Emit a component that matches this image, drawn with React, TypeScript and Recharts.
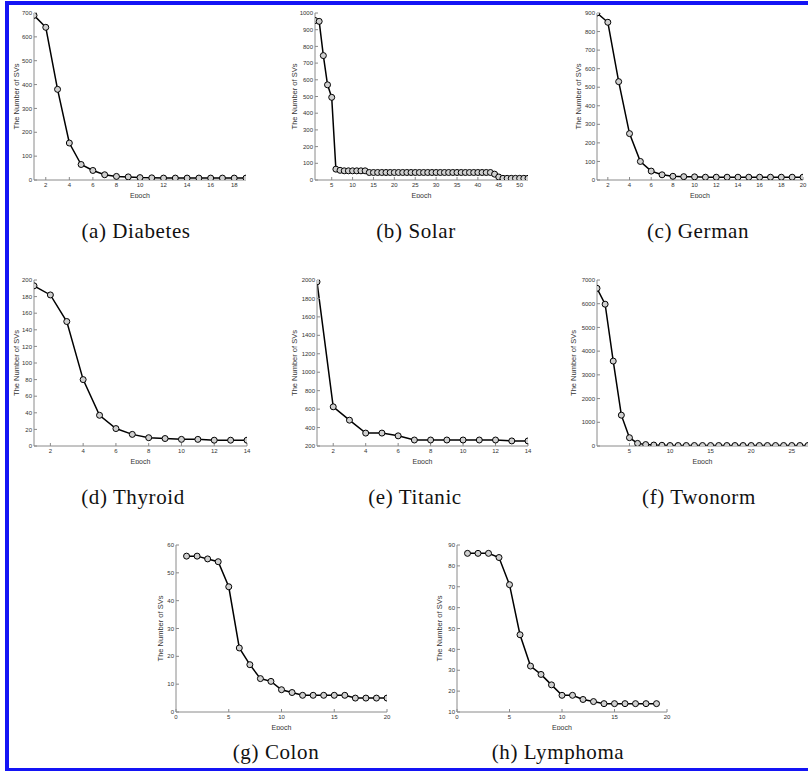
import React from 'react';
import { LineChart, Line, XAxis, YAxis } from 'recharts';

// number of support vectors per epoch
const diabetesSVs = [690, 640, 380, 155, 65, 40, 22, 15, 13, 10, 9, 8, 8, 8, 8, 8, 8, 8, 8];
const solarSVs = [
  955, 950, 745, 570, 495, 65, 58, 55, 55, 55, 55, 55, 55,
  45, 45, 45, 45, 45, 45, 45, 45, 45, 45, 45, 45, 45, 45, 45,
  45, 45, 45, 45, 45, 45, 45, 45, 45, 45, 45, 45, 45, 45, 45,
  35, 18, 10, 10, 10, 10, 10, 10, 10,
];
const germanSVs = [900, 850, 530, 250, 100, 48, 28, 20, 18, 17, 15, 15, 15, 15, 15, 15, 15, 15, 15, 15];
const thyroidSVs = [193, 182, 150, 80, 37, 21, 14, 10, 9, 8, 8, 7, 7, 7];
const titanicSVs = [1980, 625, 480, 340, 340, 310, 265, 265, 265, 265, 265, 265, 255, 255];
const twonormSVs = [
  6650, 5980, 3580, 1300, 350, 110, 60, 40, 30,
  20, 20, 20, 20, 20, 20, 20, 20, 20, 20, 20, 20, 20, 20, 20, 20, 20, 20,
];
const colonSVs = [56, 56, 55, 54, 45, 23, 17, 12, 11, 8, 7, 6, 6, 6, 6, 6, 5, 5, 5, 5];
const lymphomaSVs = [86, 86, 86, 84, 71, 47, 32, 28, 23, 18, 18, 16, 15, 14, 14, 14, 14, 14, 14];

// tick labels
const diabetesXTicks = [2, 4, 6, 8, 10, 12, 14, 16, 18];
const diabetesYTicks = [0, 100, 200, 300, 400, 500, 600, 700];
const solarXTicks = [5, 10, 15, 20, 25, 30, 35, 40, 45, 50];
const solarYTicks = [0, 100, 200, 300, 400, 500, 600, 700, 800, 900, 1000];
const germanXTicks = [2, 4, 6, 8, 10, 12, 14, 16, 18, 20];
const germanYTicks = [0, 100, 200, 300, 400, 500, 600, 700, 800, 900];
const thyroidXTicks = [2, 4, 6, 8, 10, 12, 14];
const thyroidYTicks = [0, 20, 40, 60, 80, 100, 120, 140, 160, 180, 200];
const titanicXTicks = [2, 4, 6, 8, 10, 12, 14];
const titanicYTicks = [200, 400, 600, 800, 1000, 1200, 1400, 1600, 1800, 2000];
const twonormXTicks = [5, 10, 15, 20, 25];
const twonormYTicks = [0, 1000, 2000, 3000, 4000, 5000, 6000, 7000];
const colonXTicks = [0, 5, 10, 15, 20];
const colonYTicks = [0, 10, 20, 30, 40, 50, 60];
const lymphomaXTicks = [0, 5, 10, 15, 20];
const lymphomaYTicks = [10, 20, 30, 40, 50, 60, 70, 80, 90];

const captions = ['(a) Diabetes', '(b) Solar', '(c) German', '(d) Thyroid', '(e) Titanic', '(f) Twonorm', '(g) Colon', '(h) Lymphoma'];

const FRAME = '#8a8a8a';
const INK = '#333';
const BLUE = '#1414f5';
const SANS = '"Liberation Sans", Arial, sans-serif';

interface PanelProps {
  values: number[];
  xDomain: [number, number];
  yDomain: [number, number];
  xTicks: number[];
  yTicks: number[];
  x: number;
  y: number;
  w: number;
  h: number;
  gap: number;
}

const Panel: React.FC<PanelProps> = ({ values, xDomain, yDomain, xTicks, yTicks, x, y, w, h, gap }) => {
  const data = values.map((v, i) => ({ epoch: i + 1, svs: v }));
  const padL = gap * 2;
  const padT = 4;
  const padR = 4;
  const padB = 18;
  const tickFont = { fontSize: 6, fill: INK, fontFamily: SANS };

  return (
    <div style={{ position: 'absolute', left: x - padL, top: y - padT }}>
      <LineChart
        width={w + padL + padR}
        height={h + padT + padB}
        data={data}
        margin={{ top: padT, right: padR, bottom: 0, left: 0 }}
      >
        <XAxis
          xAxisId="b"
          dataKey="epoch"
          type="number"
          domain={xDomain}
          ticks={xTicks}
          interval={0}
          height={padB}
          tickSize={-3}
          tickMargin={6}
          stroke={FRAME}
          tick={tickFont}
          allowDataOverflow
          label={{ value: 'Epoch', position: 'insideBottom', offset: 0, fontSize: 7, fill: INK, fontFamily: SANS }}
        />
        <XAxis
          xAxisId="t"
          orientation="top"
          dataKey="epoch"
          type="number"
          domain={xDomain}
          ticks={xTicks}
          interval={0}
          height={0}
          tickSize={-3}
          tickFormatter={() => ''}
          stroke={FRAME}
          allowDataOverflow
        />
        <YAxis
          yAxisId="l"
          type="number"
          domain={yDomain}
          ticks={yTicks}
          interval={0}
          width={padL}
          tickSize={-3}
          tickMargin={5}
          stroke={FRAME}
          tick={tickFont}
          allowDataOverflow
          label={{ value: 'The Number of SVs', angle: -90, position: 'center', fontSize: 7.5, fill: INK, fontFamily: SANS }}
        />
        <YAxis
          yAxisId="r"
          orientation="right"
          type="number"
          domain={yDomain}
          ticks={yTicks}
          interval={0}
          width={0}
          tickSize={-3}
          tickFormatter={() => ''}
          stroke={FRAME}
          allowDataOverflow
        />
        <Line
          xAxisId="b"
          yAxisId="l"
          dataKey="svs"
          stroke="#000"
          strokeWidth={1.5}
          dot={{ r: 3, stroke: '#000', strokeWidth: 1, fill: '#d0d0d0' }}
          isAnimationActive={false}
        />
      </LineChart>
    </div>
  );
};

const Caption: React.FC<{ text: string; cx: number; cy: number }> = ({ text, cx, cy }) => (
  <div
    style={{
      position: 'absolute',
      left: cx,
      top: cy,
      transform: 'translate(-50%, -50%)',
      whiteSpace: 'nowrap',
      fontFamily: '"Liberation Serif", "Times New Roman", serif',
      fontSize: 21,
      letterSpacing: 0.6,
      color: '#111',
    }}
  >
    {text}
  </div>
);

export default function App() {
  return (
    <div style={{ position: 'absolute', left: 0, top: 0, width: 808, height: 773, overflow: 'hidden', background: '#fff' }}>
      <div style={{ position: 'absolute', left: 5, top: 1, width: 4, height: 770, background: BLUE }} />
      <div style={{ position: 'absolute', left: 5, top: 1, width: 803, height: 4, background: BLUE }} />
      <div style={{ position: 'absolute', left: 5, top: 768, width: 803, height: 3, background: BLUE }} />
      <Panel values={diabetesSVs} xDomain={[1, 19]} yDomain={[0, 700]} xTicks={diabetesXTicks} yTicks={diabetesYTicks} x={34} y={13} w={212} h={167} gap={18} />
      <Panel values={solarSVs} xDomain={[1, 52]} yDomain={[0, 1000]} xTicks={solarXTicks} yTicks={solarYTicks} x={315} y={13} w={213} h={167} gap={21} />
      <Panel values={germanSVs} xDomain={[1, 20]} yDomain={[0, 900]} xTicks={germanXTicks} yTicks={germanYTicks} x={597} y={13} w={206} h={167} gap={19} />
      <Panel values={thyroidSVs} xDomain={[1, 14]} yDomain={[0, 200]} xTicks={thyroidXTicks} yTicks={thyroidYTicks} x={34} y={280} w={213} h={166} gap={18} />
      <Panel values={titanicSVs} xDomain={[1, 14]} yDomain={[200, 2000]} xTicks={titanicXTicks} yTicks={titanicYTicks} x={317} y={280} w={211} h={166} gap={23} />
      <Panel values={twonormSVs} xDomain={[1, 27]} yDomain={[0, 7000]} xTicks={twonormXTicks} yTicks={twonormYTicks} x={597} y={280} w={211} h={166} gap={24} />
      <Panel values={colonSVs} xDomain={[0, 20]} yDomain={[0, 60]} xTicks={colonXTicks} yTicks={colonYTicks} x={176} y={545} w={211} h={167} gap={16} />
      <Panel values={lymphomaSVs} xDomain={[0, 20]} yDomain={[10, 90]} xTicks={lymphomaXTicks} yTicks={lymphomaYTicks} x={457} y={545} w={210} h={167} gap={18} />
      <Caption text={captions[0]} cx={136} cy={231} />
      <Caption text={captions[1]} cx={416} cy={231} />
      <Caption text={captions[2]} cx={698} cy={231} />
      <Caption text={captions[3]} cx={133} cy={497} />
      <Caption text={captions[4]} cx={415} cy={497} />
      <Caption text={captions[5]} cx={699} cy={497} />
      <Caption text={captions[6]} cx={276} cy={752} />
      <Caption text={captions[7]} cx={558} cy={752} />
    </div>
  );
}
